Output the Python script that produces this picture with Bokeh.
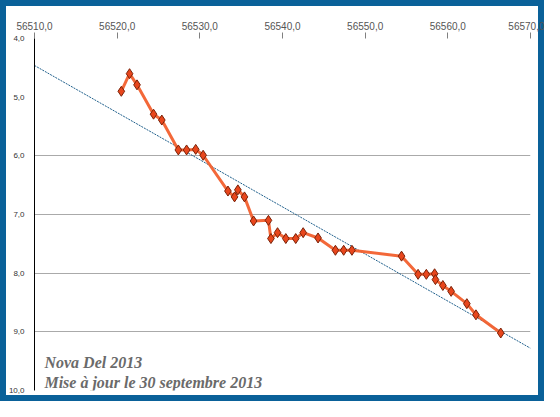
from bokeh.plotting import figure
from bokeh.models import Range1d, FixedTicker, Label, InlineStyleSheet
from bokeh.embed import file_html
from bokeh.resources import INLINE

# Data (MJD, magnitude)
days = [56520.5, 56521.5, 56522.4, 56524.4, 56525.4, 56527.4, 56528.4, 56529.5,
        56530.4, 56533.4, 56534.2, 56534.6, 56535.4, 56536.5, 56538.3, 56538.6,
        56539.4, 56540.4, 56541.6, 56542.5, 56544.3, 56546.4, 56547.4, 56548.4,
        56554.4, 56556.4, 56557.4, 56558.4, 56558.5, 56559.4, 56560.4, 56562.3,
        56563.4, 56566.4]
mags = [4.90, 4.60, 4.79, 5.29, 5.39, 5.90, 5.90, 5.89,
        5.99, 6.60, 6.70, 6.58, 6.70, 7.11, 7.10, 7.41,
        7.31, 7.41, 7.41, 7.31, 7.40, 7.61, 7.61, 7.61,
        7.71, 8.02, 8.02, 8.01, 8.11, 8.21, 8.31, 8.52,
        8.71, 9.02]

trend_x = [56510.0, 56570.0]
trend_y = [4.46, 9.28]

x_ticks = [56510, 56520, 56530, 56540, 56550, 56560, 56570]
x_labels = ["56510,0", "56520,0", "56530,0", "56540,0", "56550,0", "56560,0", "56570,0"]
y_ticks = [4, 5, 6, 7, 8, 9, 10]
y_labels = ["4,0", "5,0", "6,0", "7,0", "8,0", "9,0", "10,0"]
grid_ticks = [6, 7, 8, 9]

title1 = "Nova Del 2013"
title2 = "Mise à jour le 30 septembre 2013"

W, H = 544, 401
p = figure(width=W, height=H, output_backend="svg", toolbar_location=None,
           x_axis_location="above",
           x_range=Range1d(56510, 56570), y_range=Range1d(10, 4),
           min_border_left=34, min_border_right=14, min_border_top=38,
           min_border_bottom=11)
p.background_fill_color = "white"
p.border_fill_color = "white"
p.border_fill_alpha = 0.0
p.outline_line_color = None
p.stylesheets = [InlineStyleSheet(css=":host { background: white; box-shadow: inset 0 0 0 6px #0a6199; }")]

# x axis (top)
xa = p.xaxis[0]
xa.ticker = FixedTicker(ticks=x_ticks)
xa.major_label_overrides = {t: l for t, l in zip(x_ticks, x_labels)}
xa.axis_line_color = None
xa.major_tick_out = 6
xa.major_tick_in = 0
xa.major_tick_line_color = "#808080"
xa.minor_tick_line_color = None
xa.major_label_text_font = "Liberation Sans"
xa.major_label_text_font_size = "10px"
xa.major_label_text_color = "#555555"
xa.major_label_standoff = 3

# y axis (left)
ya = p.yaxis[0]
ya.ticker = FixedTicker(ticks=y_ticks)
ya.major_label_overrides = {t: l for t, l in zip(y_ticks, y_labels)}
ya.axis_line_color = "black"
ya.axis_line_width = 1
ya.major_tick_line_color = None
ya.major_tick_out = 0
ya.major_tick_in = 0
ya.minor_tick_line_color = None
ya.major_label_text_font = "Liberation Sans"
ya.major_label_text_font_size = "8px"
ya.major_label_text_color = "#333333"
ya.major_label_standoff = 10

p.xgrid.grid_line_color = None
p.ygrid.ticker = FixedTicker(ticks=grid_ticks)
p.ygrid.grid_line_color = "#aaaaaa"
p.ygrid.grid_line_width = 1

# trend line
p.line(trend_x, trend_y, line_color="#1f5f8b", line_width=1, line_dash="2 1")

# light curve
p.line(days, mags, line_color="#f2602e", line_width=3, line_alpha=0.95)
p.scatter(days, mags, marker="diamond", size=10, fill_color="#e8461c",
          line_color="#7a2208", line_width=1)

# captions
for txt, yy in [(title1, 9.52), (title2, 9.86)]:
    p.add_layout(Label(x=56511.2, y=yy, text=txt, text_font="Liberation Serif",
                       text_font_style="bold italic", text_font_size="16px",
                       text_color="#6a6a6a", text_baseline="alphabetic"))

open("out.html", "w").write(file_html(p, INLINE))
